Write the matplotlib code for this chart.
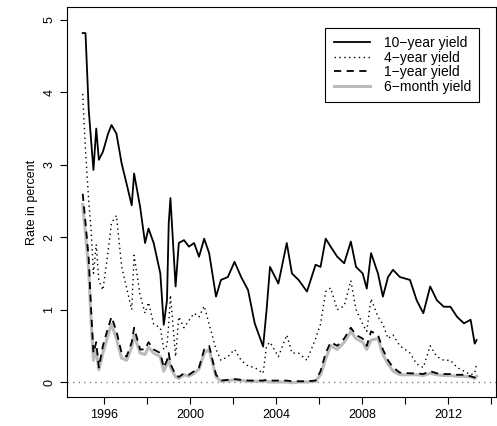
import matplotlib
matplotlib.use("Agg")
import matplotlib.pyplot as plt

years = [1995.01, 1995.14, 1995.29, 1995.40, 1995.51, 1995.64, 1995.76, 1995.95, 1996.19, 1996.35,
         1996.58, 1996.82, 1997.05, 1997.29, 1997.40, 1997.68, 1997.91, 1998.07, 1998.31, 1998.62,
         1998.78, 1998.93, 1999.01, 1999.09, 1999.33, 1999.48, 1999.72, 1999.95, 2000.19, 2000.42,
         2000.66, 2000.89, 2001.21, 2001.44, 2001.76, 2002.07, 2002.38, 2002.70, 2003.01, 2003.40,
         2003.56, 2003.72, 2004.11, 2004.50, 2004.74, 2005.05, 2005.44, 2005.84, 2006.07, 2006.31,
         2006.54, 2006.85, 2007.17, 2007.48, 2007.72, 2008.03, 2008.22, 2008.42, 2008.74, 2008.97,
         2009.21, 2009.44, 2009.76, 2010.23, 2010.54, 2010.85, 2011.17, 2011.48, 2011.80, 2012.11,
         2012.42, 2012.74, 2013.05, 2013.24, 2013.33]

y10 = [4.82, 4.82, 3.76, 3.34, 2.93, 3.50, 3.07, 3.18, 3.43, 3.55,
       3.43, 3.02, 2.74, 2.44, 2.88, 2.42, 1.92, 2.12, 1.92, 1.50,
       0.79, 1.13, 2.19, 2.54, 1.32, 1.92, 1.96, 1.87, 1.92, 1.73,
       1.98, 1.78, 1.18, 1.41, 1.45, 1.66, 1.45, 1.27, 0.81, 0.49,
       0.99, 1.59, 1.36, 1.92, 1.50, 1.41, 1.25, 1.62, 1.59, 1.98,
       1.87, 1.73, 1.64, 1.94, 1.59, 1.50, 1.29, 1.78, 1.50, 1.18,
       1.45, 1.55, 1.45, 1.41, 1.13, 0.95, 1.32, 1.13, 1.04, 1.04,
       0.90, 0.81, 0.86, 0.53, 0.58]

y4 = [3.98, 3.20, 2.50, 2.10, 1.50, 1.90, 1.40, 1.27, 1.80, 2.20,
      2.30, 1.60, 1.30, 1.00, 1.75, 1.20, 0.95, 1.10, 0.80, 0.75,
      0.45, 0.50, 0.80, 1.20, 0.35, 0.90, 0.75, 0.85, 0.95, 0.90,
      1.05, 0.80, 0.45, 0.30, 0.35, 0.45, 0.30, 0.22, 0.20, 0.12,
      0.50, 0.55, 0.35, 0.65, 0.40, 0.40, 0.30, 0.60, 0.80, 1.25,
      1.30, 1.00, 1.05, 1.40, 1.00, 0.80, 0.70, 1.15, 0.90, 0.80,
      0.60, 0.65, 0.50, 0.40, 0.25, 0.20, 0.50, 0.35, 0.30, 0.30,
      0.20, 0.15, 0.10, 0.12, 0.25]

y1 = [2.60, 2.20, 1.70, 1.00, 0.40, 0.55, 0.20, 0.50, 0.75, 0.90,
      0.70, 0.40, 0.35, 0.55, 0.75, 0.45, 0.45, 0.55, 0.45, 0.40,
      0.20, 0.30, 0.40, 0.25, 0.10, 0.07, 0.12, 0.10, 0.15, 0.20,
      0.45, 0.50, 0.10, 0.02, 0.03, 0.04, 0.03, 0.02, 0.02, 0.02,
      0.03, 0.02, 0.02, 0.02, 0.01, 0.01, 0.01, 0.02, 0.15, 0.40,
      0.55, 0.50, 0.60, 0.75, 0.65, 0.60, 0.50, 0.70, 0.65, 0.45,
      0.30, 0.20, 0.13, 0.12, 0.12, 0.11, 0.15, 0.12, 0.11, 0.11,
      0.10, 0.10, 0.08, 0.06, 0.10]

y6m = [2.45, 2.05, 1.55, 0.85, 0.30, 0.45, 0.17, 0.40, 0.65, 0.80,
       0.60, 0.33, 0.30, 0.48, 0.65, 0.40, 0.38, 0.48, 0.40, 0.35,
       0.15, 0.25, 0.33, 0.20, 0.07, 0.05, 0.10, 0.08, 0.12, 0.18,
       0.40, 0.45, 0.07, 0.01, 0.02, 0.03, 0.02, 0.01, 0.01, 0.01,
       0.01, 0.00, 0.00, 0.00, -0.01, 0.00, 0.00, 0.01, 0.10, 0.32,
       0.50, 0.45, 0.55, 0.70, 0.60, 0.55, 0.45, 0.58, 0.60, 0.38,
       0.25, 0.15, 0.10, 0.10, 0.10, 0.09, 0.12, 0.10, 0.09, 0.09,
       0.08, 0.08, 0.07, 0.05, 0.08]

plt.rcParams["font.family"] = ["Liberation Sans", "DejaVu Sans"]
fig = plt.figure(figsize=(4.97, 4.26), dpi=100)
ax = fig.add_axes([67 / 497, 29 / 426, 429 / 497, 390 / 426])

ax.axhline(0, color="gray", linestyle=(0, (1, 3)), linewidth=1)
ax.plot(years, y6m, color="#bbbbbb", linewidth=2.2, label="6\u2212month yield", zorder=2)
ax.plot(years, y1, color="black", linestyle=(0, (4, 3)), linewidth=1.3, label="1\u2212year yield", zorder=3)
ax.plot(years, y4, color="black", linestyle=(0, (1, 2.5)), linewidth=1, label="4\u2212year yield", zorder=3)
ax.plot(years, y10, color="black", linewidth=1.3, label="10\u2212year yield", zorder=4)

ax.set_xlim(1994.28, 2014.23)
ax.set_ylim(-0.207, 5.18)
ax.set_xticks(range(1996, 2015, 2))
ax.set_xticklabels([str(y) if y % 4 == 0 else "" for y in range(1996, 2015, 2)])
ax.set_yticks(range(6))
ax.set_yticklabels([str(v) for v in range(6)], rotation=90, va="center")
ax.tick_params(labelsize=9, length=5)
ax.set_ylabel("Rate in percent", fontsize=9)

h, l = ax.get_legend_handles_labels()
order = [3, 2, 1, 0]
leg = ax.legend([h[i] for i in order], [l[i] for i in order], loc="upper right",
                bbox_to_anchor=(0.977, 0.965), fontsize=10, fancybox=False,
                edgecolor="black", framealpha=1, handlelength=2.6, labelspacing=0.05,
                borderpad=0.6, handletextpad=1.0)
leg.get_frame().set_linewidth(0.8)

fig.savefig("out.png", dpi=100)
